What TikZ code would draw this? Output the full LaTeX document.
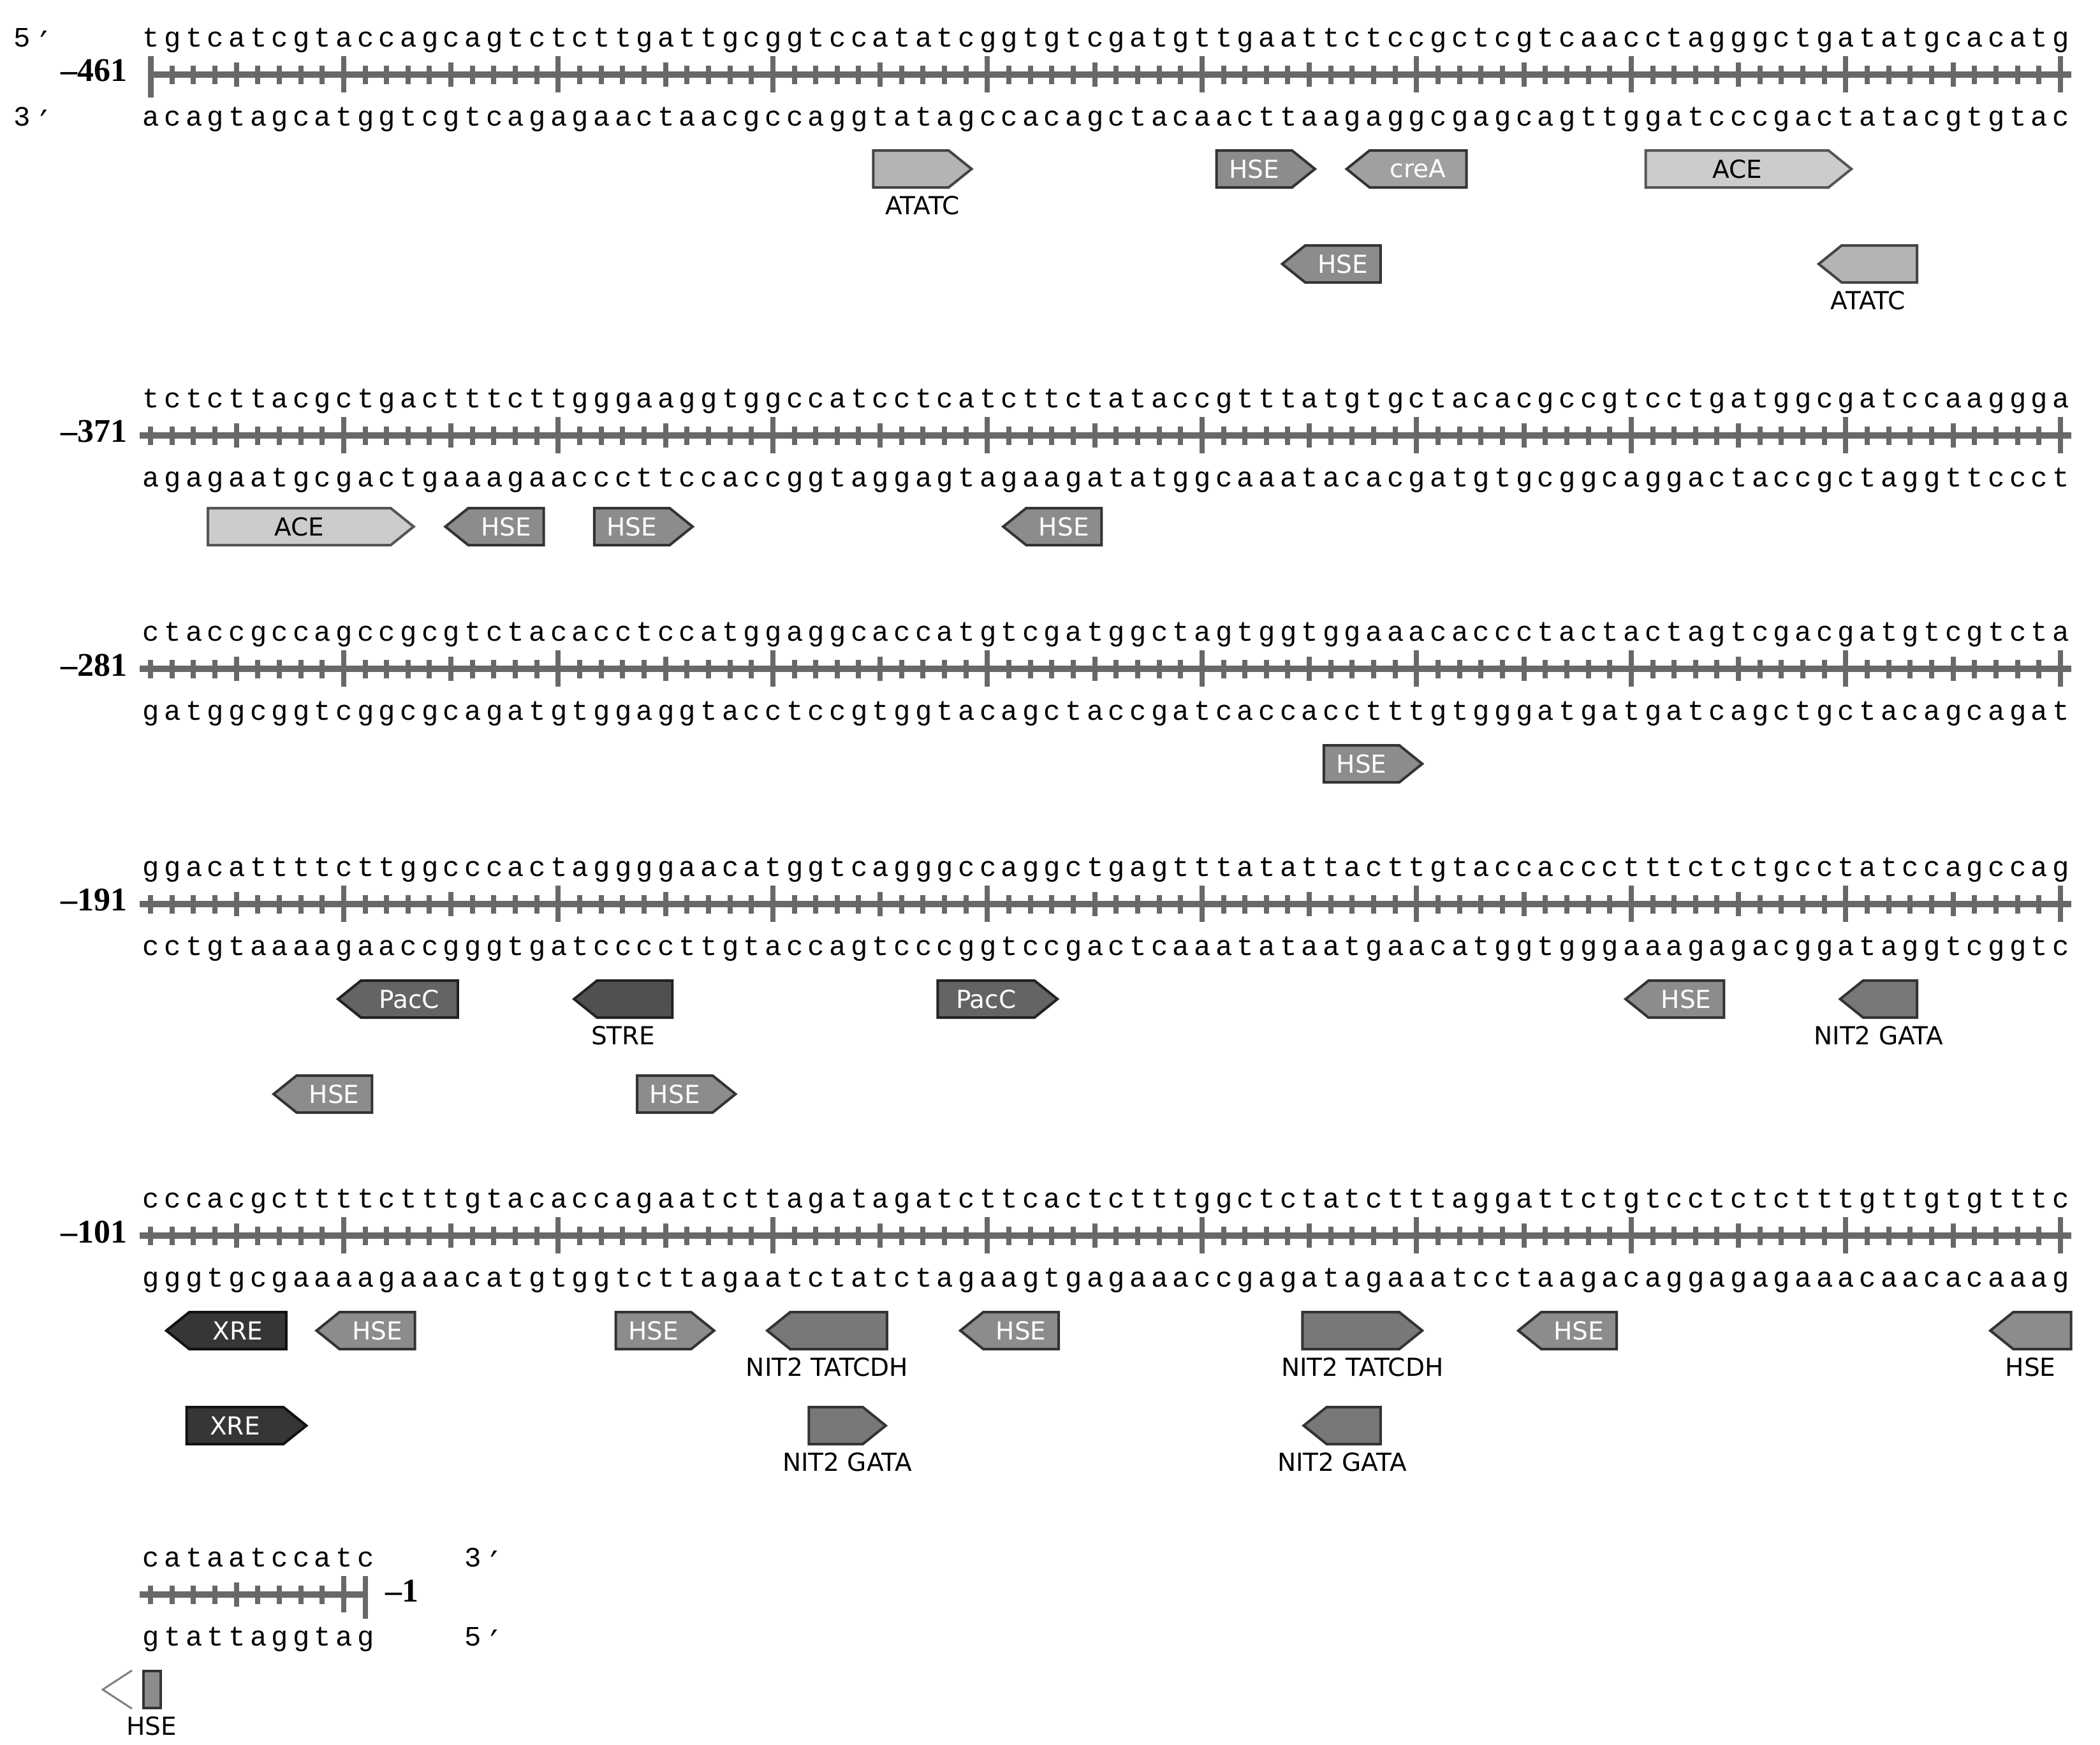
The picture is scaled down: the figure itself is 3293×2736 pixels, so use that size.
\documentclass[tikz,border=0pt]{standalone}
\usepackage{fontspec}
\setmainfont{DejaVu Sans}
\newfontfamily\seqfont{Liberation Mono}
\newfontfamily\numfont{Liberation Serif}
\newfontfamily\primefont{DejaVu Sans Mono}
\usetikzlibrary{calc}
\newlength\bw
\setlength\bw{6.73pt}
\def\cmpch#1{\if a#1t\else\if t#1a\else\if g#1c\else\if c#1g\else#1\fi\fi\fi\fi}
\def\seqloop#1{\ifx#1\relax\else\makebox[\bw][c]{#1}\expandafter\seqloop\fi}
\def\cmploop#1{\ifx#1\relax\else\makebox[\bw][c]{\cmpch#1}\expandafter\cmploop\fi}
\newcommand\seqtxt[1]{\seqloop#1\relax}
\newcommand\cmptxt[1]{\cmploop#1\relax}
\newcommand\myprime{\makebox[\bw][c]{\raisebox{-3pt}{\primefont\fontsize{11pt}{11pt}\selectfont ′}}}
\definecolor{rulergray}{RGB}{104,104,104}
\definecolor{cATATC}{RGB}{180,180,180}\definecolor{dATATC}{RGB}{68,68,68}
\definecolor{cHSE}{RGB}{140,140,140}\definecolor{dHSE}{RGB}{51,51,51}
\definecolor{cCREA}{RGB}{160,160,160}
\definecolor{cACE}{RGB}{204,204,204}\definecolor{dACE}{RGB}{85,85,85}
\definecolor{cPACC}{RGB}{100,100,100}\definecolor{dDARK}{RGB}{34,34,34}
\definecolor{cSTRE}{RGB}{80,80,80}
\definecolor{cNIT}{RGB}{120,120,120}
\definecolor{cXRE}{RGB}{54,54,54}\definecolor{dXRE}{RGB}{17,17,17}
\definecolor{chev}{RGB}{128,128,128}
\tikzset{
  seqtext/.style={inner sep=0pt, font=\seqfont\fontsize{8.8pt}{9pt}\selectfont},
  numtext/.style={inner sep=0pt, font=\numfont\bfseries\fontsize{10.4pt}{11pt}\selectfont},
  rul/.style={fill=rulergray},
  feat/.style={line width=0.8pt, line join=miter},
  atatc/.style={feat, fill=cATATC, draw=dATATC},
  hse/.style={feat, fill=cHSE, draw=dHSE},
  crea/.style={feat, fill=cCREA, draw=dHSE},
  ace/.style={feat, fill=cACE, draw=dACE},
  pacc/.style={feat, fill=cPACC, draw=dDARK},
  stre/.style={feat, fill=cSTRE, draw=dDARK},
  nit/.style={feat, fill=cNIT, draw=dHSE},
  xre/.style={feat, fill=cXRE, draw=dXRE},
  intxt/.style={inner sep=0pt, text=white, font=\fontsize{7.8pt}{8pt}\selectfont},
  intxtk/.style={intxt, text=black},
  lbl/.style={inner sep=0pt, font=\fontsize{7.8pt}{8pt}\selectfont},
}
\newcommand\tickS[2]{\fill[rul] ({236+33.65*#1-4},#2-14) rectangle ({236+33.65*#1+4},#2+15);}
\newcommand\tickM[2]{\fill[rul] ({236+33.65*#1-4},#2-19) rectangle ({236+33.65*#1+4},#2+19);}
\newcommand\tickL[2]{\fill[rul] ({236+33.65*#1-4},#2-29) rectangle ({236+33.65*#1+4},#2+28);}
\newcommand\fullruler[1]{%
  \fill[rul] (219.2,#1-5) rectangle (3247.7,#1+5);
  \foreach \i in {0,...,89}{\tickS{\i}{#1}}
  \foreach \i in {4,14,...,84}{\tickM{\i}{#1}}
  \foreach \i in {9,19,...,89}{\tickL{\i}{#1}}
}
\newcommand\seqrow[3]{%
  \node[seqtext, anchor=base west] (#1top) at (219.2,#2-44) {\seqtxt{#3}};
  \node[seqtext, anchor=base west] (#1bot) at (219.2,#2+80) {\cmptxt{#3}};
}
\newcommand\fwd[5]{%
  \pgfmathsetmacro\xa{219.2+33.65*#3+6}%
  \pgfmathsetmacro\xb{219.2+33.65*#4-8}%
  \pgfmathsetmacro\xs{\xb-36}%
  \draw[#5] (\xa,#2-29) -- (\xs,#2-29) -- (\xb,#2) -- (\xs,#2+29) -- (\xa,#2+29) -- cycle;
  \coordinate (#1b) at ({(\xa+\xs)/2},#2);
  \coordinate (#1c) at ({(\xa+\xb)/2},#2);
}
\newcommand\rev[5]{%
  \pgfmathsetmacro\xa{219.2+33.65*#3+8}%
  \pgfmathsetmacro\xb{219.2+33.65*#4-6}%
  \pgfmathsetmacro\xs{\xa+36}%
  \draw[#5] (\xb,#2-29) -- (\xs,#2-29) -- (\xa,#2) -- (\xs,#2+29) -- (\xb,#2+29) -- cycle;
  \coordinate (#1b) at ({(\xs+\xb)/2},#2);
  \coordinate (#1c) at ({(\xa+\xb)/2},#2);
}
\begin{document}
\begin{tikzpicture}[x=0.2pt,y=-0.2pt]
\fill[white] (0,0) rectangle (3293,2736);
\useasboundingbox (0,0) rectangle (3293,2736);

% ---------- row 1 ----------
\fill[rul] (232,112) rectangle (3247.7,122);
\fill[rul] (232,88) rectangle (241,153);
\foreach \i in {1,...,89}{\tickS{\i}{117}}
\foreach \i in {4,14,...,84}{\tickM{\i}{117}}
\foreach \i in {9,19,...,89}{\tickL{\i}{117}}
\seqrow{r1}{117}{tgtcatcgtaccagcagtctcttgattgcggtccatatcggtgtcgatgttgaattctccgctcgtcaacctagggctgatatgcacatg}
\node[seqtext, anchor=base west] (p5a) at (17.3,73) {\makebox[\bw][c]{5}\myprime};
\node[seqtext, anchor=base west] (p3a) at (17.3,197) {\makebox[\bw][c]{3}\myprime};
\node[numtext, anchor=east] (n461) at (200,111) {–461};

\fwd{f1}{265}{34}{39}{atatc}
\node[lbl] (l1) at ($(f1c)+(0,57)$) {ATATC};
\fwd{f2}{265}{50}{55}{hse}
\node[intxt] (l2) at (f2b) {HSE};
\rev{f3}{265}{56}{62}{crea}
\node[intxt] (l3) at (f3b) {creA};
\fwd{f4}{265}{70}{80}{ace}
\node[intxtk] (l4) at (f4b) {ACE};
\rev{f5}{414}{53}{58}{hse}
\node[intxt] (l5) at (f5b) {HSE};
\rev{f6}{414}{78}{83}{atatc}
\node[lbl] (l6) at ($(f6c)+(0,57)$) {ATATC};

% ---------- row 2 ----------
\fullruler{683}
\seqrow{r2}{683}{tctcttacgctgactttcttgggaaggtggccatcctcatcttctataccgtttatgtgctacacgccgtcctgatggcgatccaaggga}
\node[numtext, anchor=east] (n371) at (200,677) {–371};
\fwd{f7}{826}{3}{13}{ace}
\node[intxtk] (l7) at (f7b) {ACE};
\rev{f8}{826}{14}{19}{hse}
\node[intxt] (l8) at (f8b) {HSE};
\fwd{f9}{826}{21}{26}{hse}
\node[intxt] (l9) at (f9b) {HSE};
\rev{f10}{826}{40}{45}{hse}
\node[intxt] (l10) at (f10b) {HSE};

% ---------- row 3 ----------
\fullruler{1049}
\seqrow{r3}{1049}{ctaccgccagccgcgtctacacctccatggaggcaccatgtcgatggctagtggtggaaacaccctactactagtcgacgatgtcgtcta}
\node[numtext, anchor=east] (n281) at (200,1043) {–281};
\fwd{f11}{1198}{55}{60}{hse}
\node[intxt] (l11) at (f11b) {HSE};

% ---------- row 4 ----------
\fullruler{1418}
\seqrow{r4}{1418}{ggacattttcttggcccactaggggaacatggtcagggccaggctgagtttatattacttgtaccaccctttctctgcctatccagccag}
\node[numtext, anchor=east] (n191) at (200,1412) {–191};
\rev{f12}{1567}{9}{15}{pacc}
\node[intxt] (l12) at (f12b) {PacC};
\rev{f13}{1567}{20}{25}{stre}
\node[lbl] (l13) at ($(f13c)+(0,57)$) {STRE};
\fwd{f14}{1567}{37}{43}{pacc}
\node[intxt] (l14) at (f14b) {PacC};
\rev{f15}{1567}{69}{74}{hse}
\node[intxt] (l15) at (f15b) {HSE};
\rev{f16}{1567}{79}{83}{nit}
\node[lbl] (l16) at ($(f16c)+(0,57)$) {NIT2 GATA};
\rev{f17}{1716}{6}{11}{hse}
\node[intxt] (l17) at (f17b) {HSE};
\fwd{f18}{1716}{23}{28}{hse}
\node[intxt] (l18) at (f18b) {HSE};

% ---------- row 5 ----------
\fullruler{1938}
\seqrow{r5}{1938}{cccacgcttttctttgtacaccagaatcttagatagatcttcactctttggctctatctttaggattctgtcctctctttgttgtgtttc}
\node[numtext, anchor=east] (n101) at (200,1932) {–101};
\rev{f19}{2087}{1}{7}{xre}
\node[intxt] (l19) at (f19b) {XRE};
\rev{f20}{2087}{8}{13}{hse}
\node[intxt] (l20) at (f20b) {HSE};
\fwd{f21}{2087}{22}{27}{hse}
\node[intxt] (l21) at (f21b) {HSE};
\rev{f22}{2087}{29}{35}{nit}
\node[lbl] (l22) at ($(f22c)+(0,57)$) {NIT2 TATCDH};
\rev{f23}{2087}{38}{43}{hse}
\node[intxt] (l23) at (f23b) {HSE};
\fwd{f24}{2087}{54}{60}{nit}
\node[lbl] (l24) at ($(f24c)+(0,57)$) {NIT2 TATCDH};
\rev{f25}{2087}{64}{69}{hse}
\node[intxt] (l25) at (f25b) {HSE};
\draw[hse] (3247.7,2058) -- (3157,2058) -- (3121,2087) -- (3157,2116) -- (3247.7,2116) -- cycle;
\coordinate (f26c) at (3184,2087);
\node[lbl] (l26) at ($(f26c)+(0,57)$) {HSE};
\fwd{f27}{2236}{2}{8}{xre}
\node[intxt] (l27) at (f27b) {XRE};
\fwd{f28}{2236}{31}{35}{nit}
\node[lbl] (l28) at ($(f28c)+(0,57)$) {NIT2 GATA};
\rev{f29}{2236}{54}{58}{nit}
\node[lbl] (l29) at ($(f29c)+(0,57)$) {NIT2 GATA};

% ---------- row 6 ----------
\fill[rul] (219.2,2496) rectangle (576.5,2506);
\foreach \i in {0,...,8}{\tickS{\i}{2501}}
\tickM{4}{2501}
\tickL{9}{2501}
\fill[rul] (568.5,2472) rectangle (576.5,2539);
\seqrow{r6}{2501}{cataatccatc}
\node[seqtext, anchor=base west] (p3b) at (724,2457) {\makebox[\bw][c]{3}\myprime};
\node[seqtext, anchor=base west] (p5b) at (724,2581) {\makebox[\bw][c]{5}\myprime};
\node[numtext, anchor=west] (n1) at (603,2495) {–1};
\draw[hse] (225,2621) rectangle (252,2679);
\draw[chev, line width=0.6pt] (207,2620) -- (161,2650) -- (207,2680);
\coordinate (f30c) at (238,2650);
\node[lbl] (l30) at ($(f30c)+(0,57)$) {HSE};
\end{tikzpicture}
\end{document}
